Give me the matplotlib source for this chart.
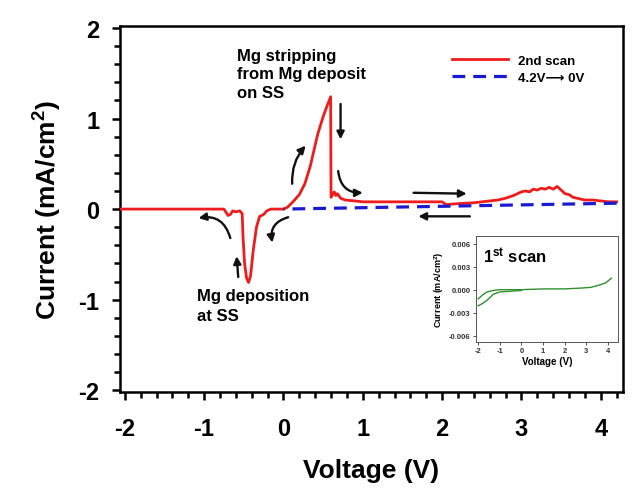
import numpy as np
import matplotlib.pyplot as plt
from matplotlib.ticker import MultipleLocator

plt.rcParams['font.family'] = ['Liberation Sans', 'DejaVu Sans']
plt.rcParams['font.weight'] = 'bold'
plt.rcParams['axes.unicode_minus'] = False
plt.rcParams['mathtext.fontset'] = 'custom'
plt.rcParams['mathtext.rm'] = 'Liberation Sans:bold'
plt.rcParams['mathtext.bf'] = 'Liberation Sans:bold'
plt.rcParams['mathtext.default'] = 'bf'

# 2nd scan, forward sweep -2 V -> 4.2 V
v_scan2 = [-2.05, -0.75, -0.72, -0.70, -0.67, -0.64, -0.60, -0.55, -0.52, -0.51,
           -0.49, -0.465, -0.44, -0.415, -0.38, -0.34, -0.30, -0.25, -0.21, -0.16,
           0.0, 0.05, 0.12, 0.20, 0.27, 0.34, 0.43, 0.50, 0.55, 0.595, 0.60,
           0.62, 0.64, 0.66, 0.68, 0.72, 0.78, 0.90, 1.0, 1.2, 1.4, 1.6, 1.8, 2.0,
           2.05, 2.2, 2.4, 2.6, 2.7, 2.8, 2.9, 2.95, 3.0, 3.05, 3.1, 3.15, 3.2,
           3.25, 3.3, 3.35, 3.4, 3.45, 3.5, 3.55, 3.6, 3.65, 3.7, 3.8, 3.9, 4.0,
           4.1, 4.2]
i_scan2 = [0.0, 0.0, -0.04, -0.07, -0.06, -0.02, -0.03, -0.02, -0.05, -0.30,
           -0.60, -0.76, -0.81, -0.74, -0.45, -0.20, -0.08, -0.06, -0.02, 0.0,
           0.0, 0.02, 0.08, 0.16, 0.28, 0.48, 0.82, 1.02, 1.14, 1.24, 0.13,
           0.16, 0.19, 0.15, 0.17, 0.12, 0.10, 0.09, 0.08, 0.08, 0.08, 0.08, 0.08, 0.08,
           0.05, 0.06, 0.07, 0.09, 0.10, 0.12, 0.15, 0.17, 0.19, 0.20, 0.19, 0.22, 0.21,
           0.23, 0.22, 0.24, 0.22, 0.25, 0.21, 0.17, 0.16, 0.13, 0.12, 0.10, 0.10, 0.09,
           0.08, 0.08]

# reverse sweep 4.2 V -> 0 V
v_rev = [4.2, 0.0]
i_rev = [0.065, 0.0]

# inset: 1st scan (two branches)
v_in_up = [-2.0, -1.8, -1.6, -1.3, -1.0, -0.5, 0.0, 1.0, 2.0, 2.7, 3.2, 3.6, 3.9, 4.15]
i_in_up = [-0.0012, -0.0007, -0.0003, -0.0001, 0.0, 0.0, 0.0, 0.0001, 0.0001,
           0.0002, 0.0003, 0.0006, 0.0009, 0.0015]
v_in_lo = [-2.0, -1.8, -1.6, -1.3, -1.0, -0.5, 0.0]
i_in_lo = [-0.0021, -0.0018, -0.0014, -0.0006, -0.0003, -0.0002, -0.0001]

fig = plt.figure(figsize=(6.33, 5.02), dpi=100)
ax = fig.add_axes([0.1896, 0.217, 0.7946, 0.729])

ax.plot(v_scan2, i_scan2, color='#ee1c1c', lw=2.0, label='2nd scan', zorder=3)
ax.plot(v_rev, i_rev, color='#1a1ad0', lw=2.3, ls=(0, (4, 2.5)),
        label='4.2V\u27f6 0V', zorder=4)

ax.set_xlim(-2.06, 4.28)
ax.set_ylim(-2.02, 2.02)
ax.xaxis.set_major_locator(MultipleLocator(1))
ax.xaxis.set_minor_locator(MultipleLocator(0.2))
ax.yaxis.set_major_locator(MultipleLocator(1))
ax.yaxis.set_minor_locator(MultipleLocator(0.2))
ax.tick_params(which='both', direction='out', width=1.8, top=False, right=False)
ax.tick_params(which='major', length=6, labelsize=17)
ax.tick_params(axis='x', which='major', pad=12)
ax.tick_params(axis='y', which='major', pad=9)
ax.tick_params(which='minor', length=4)
for lab in ax.get_xticklabels() + ax.get_yticklabels():
    lab.set_fontweight('bold')
for s in ax.spines.values():
    s.set_linewidth(1.8)

ax.set_xlabel('Voltage (V)', fontsize=19, fontweight='bold', labelpad=13)
ax.set_ylabel(r'Current (mA/cm$^{2}$)', fontsize=19, fontweight='bold', labelpad=10)

leg = ax.legend(loc='upper left', bbox_to_anchor=(0.637, 0.955), frameon=False,
                fontsize=9.5, handlelength=4.2, handletextpad=0.8, labelspacing=0.35)
for t in leg.get_texts():
    t.set_fontweight('bold')

ax.text(-0.59, 1.78, 'Mg stripping\nfrom Mg deposit\non SS', fontsize=12,
        fontweight='bold', va='top', ha='left', linespacing=1.3)
ax.text(-1.09, -0.87, 'Mg deposition\nat SS', fontsize=12,
        fontweight='bold', va='top', ha='left', linespacing=1.45)

# sweep-direction arrows
arrows = [
    ((-0.67, -0.32), (-1.07, -0.10), 0.45),
    ((-0.57, -0.75), (-0.59, -0.52), 0.0),
    ((0.06, -0.09), (-0.14, -0.37), 0.45),
    ((0.11, 0.28), (0.28, 0.70), -0.2),
    ((0.72, 1.16), (0.72, 0.77), 0.0),
    ((0.69, 0.42), (1.00, 0.18), 0.45),
    ((1.64, 0.18), (2.31, 0.17), 0.0),
    ((2.35, -0.08), (1.70, -0.08), 0.0),
]
for start, end, rad in arrows:
    ax.annotate('', xy=end, xytext=start,
                arrowprops=dict(arrowstyle='-|>', color='#111111', lw=1.7,
                                mutation_scale=11, shrinkA=0, shrinkB=0,
                                connectionstyle='arc3,rad=%s' % rad))

# inset with the 1st scan
ins = fig.add_axes([0.752, 0.317, 0.224, 0.211])
ins.plot(v_in_up, i_in_up, color='#2f8f2f', lw=1.0)
ins.plot(v_in_lo, i_in_lo, color='#2f8f2f', lw=1.0)
ins.set_xlim(-2.1, 4.45)
ins.set_ylim(-0.0068, 0.007)
ins.set_xticks([-2, -1, 0, 1, 2, 3, 4])
ins.set_yticks([0.006, 0.003, 0.0, -0.003, -0.006])
ins.set_yticklabels(['0.006', '0.003', '0.000', '-0.003', '-0.006'])
ins.tick_params(labelsize=5.5, length=2, width=0.6, pad=2, colors='#333333')
for s in ins.spines.values():
    s.set_linewidth(0.7)
    s.set_color('#555555')
ins.set_xlabel('Voltage (V)', fontsize=7, fontweight='bold', labelpad=1)
ins.set_ylabel(r'Current (mA/cm$^{2}$)', fontsize=6.5, fontweight='bold', labelpad=2)
ins.text(0.05, 0.82, r'1$^{st}$ scan', transform=ins.transAxes, fontsize=12,
         fontweight='bold', va='center', ha='left')

fig.savefig('out.png', dpi=100)
